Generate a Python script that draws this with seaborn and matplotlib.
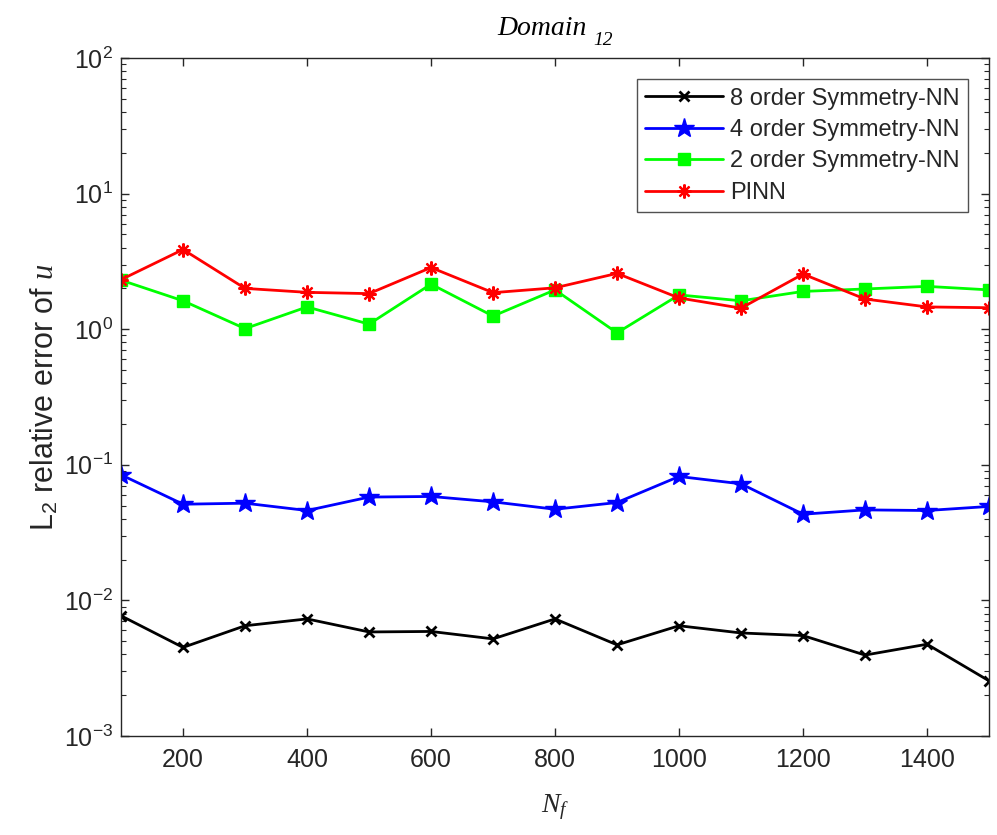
import numpy as np
import pandas as pd
import matplotlib
matplotlib.use("Agg")
import matplotlib.pyplot as plt
from matplotlib.ticker import LogLocator, NullFormatter, FixedLocator
import seaborn as sns

n_f = [100, 200, 300, 400, 500, 600, 700, 800, 900, 1000, 1100, 1200, 1300, 1400, 1500]

err_8order = [7.7e-3, 4.5e-3, 6.5e-3, 7.3e-3, 5.85e-3, 5.9e-3, 5.2e-3, 7.3e-3,
              4.7e-3, 6.5e-3, 5.75e-3, 5.5e-3, 3.95e-3, 4.75e-3, 2.55e-3]
err_4order = [0.0844, 0.0512, 0.0521, 0.046, 0.0578, 0.0584, 0.0533, 0.047,
              0.0527, 0.082, 0.0724, 0.0432, 0.0465, 0.046, 0.0493]
err_2order = [2.3, 1.62, 1.01, 1.46, 1.09, 2.15, 1.25, 1.95,
              0.94, 1.79, 1.62, 1.9, 1.98, 2.07, 1.95]
err_pinn = [2.32, 3.87, 2.0, 1.87, 1.83, 2.85, 1.86, 2.02,
            2.58, 1.7, 1.43, 2.55, 1.67, 1.46, 1.44]

series_names = ["8 order Symmetry-NN", "4 order Symmetry-NN", "2 order Symmetry-NN", "PINN"]
series_values = [err_8order, err_4order, err_2order, err_pinn]

df = pd.concat([pd.DataFrame({"Nf": n_f, "err": v, "method": name})
                for name, v in zip(series_names, series_values)], ignore_index=True)

sns.set_theme(style="ticks")
plt.rcParams["font.family"] = ["Liberation Sans", "DejaVu Sans"]
plt.rcParams["mathtext.fontset"] = "custom"
plt.rcParams["mathtext.rm"] = "Liberation Sans"
plt.rcParams["mathtext.it"] = "Liberation Serif:italic"
plt.rcParams["mathtext.bf"] = "Liberation Sans:bold"
plt.rcParams["xtick.direction"] = "in"
plt.rcParams["ytick.direction"] = "in"

colors = {"8 order Symmetry-NN": "black", "4 order Symmetry-NN": "#0000ff",
          "2 order Symmetry-NN": "#00ff00", "PINN": "#ff0000"}
markers = {"8 order Symmetry-NN": "x", "4 order Symmetry-NN": "*",
           "2 order Symmetry-NN": "s", "PINN": (8, 2, 0)}
msizes = {"8 order Symmetry-NN": 7, "4 order Symmetry-NN": 15,
          "2 order Symmetry-NN": 8.5, "PINN": 10}
mew = {"8 order Symmetry-NN": 2, "4 order Symmetry-NN": 1,
       "2 order Symmetry-NN": 1, "PINN": 1.6}

fig = plt.figure(figsize=(9.97, 8.35), dpi=100)
ax = fig.add_axes([0.1214, 0.1186, 0.8706, 0.8119])

for name in series_names:
    sub = df[df["method"] == name]
    sns.lineplot(data=sub, x="Nf", y="err", ax=ax, color=colors[name],
                 marker=markers[name], markersize=msizes[name],
                 markeredgecolor=colors[name], markerfacecolor=colors[name],
                 markeredgewidth=mew[name], linewidth=2, label=name)

ax.set_yscale("log")
ax.set_xlim(100, 1500)
ax.set_ylim(1e-3, 1e2)
ax.xaxis.set_major_locator(FixedLocator([200, 400, 600, 800, 1000, 1200, 1400]))
ax.yaxis.set_major_locator(LogLocator(base=10, numticks=10))
ax.yaxis.set_minor_locator(LogLocator(base=10, subs=np.arange(2, 10), numticks=20))
ax.yaxis.set_minor_formatter(NullFormatter())
ax.tick_params(which="both", top=True, right=True, colors="#262626", labelsize=18,
               labelcolor="#262626")
ax.tick_params(which="major", length=6, width=1)
ax.tick_params(axis="x", which="major", pad=9)
ax.tick_params(axis="y", which="major", pad=6)
ax.tick_params(which="minor", length=3.5, width=0.8)
for s in ax.spines.values():
    s.set_color("#262626")
    s.set_linewidth(1)

ax.set_xlabel(r"$N_f$", fontsize=20, color="#262626", labelpad=14)
ax.set_ylabel(r"L$_2$ relative error of $u$", fontsize=22, color="#262626", labelpad=2)

fig.text(0.5436, 0.958, "Domain", family="Liberation Serif", style="italic",
         fontsize=20, ha="center", va="baseline", color="black")
fig.text(0.595, 0.946, "12", family="Liberation Serif", style="italic",
         fontsize=14, ha="left", va="baseline", color="black")

leg = ax.legend(loc="upper right", fontsize=17, frameon=True, fancybox=False,
                edgecolor="#262626", borderaxespad=0.9, handlelength=3.3,
                labelspacing=0.4, borderpad=0.35, handletextpad=0.3)
leg.get_frame().set_linewidth(1)

fig.savefig("out.png", dpi=100)
